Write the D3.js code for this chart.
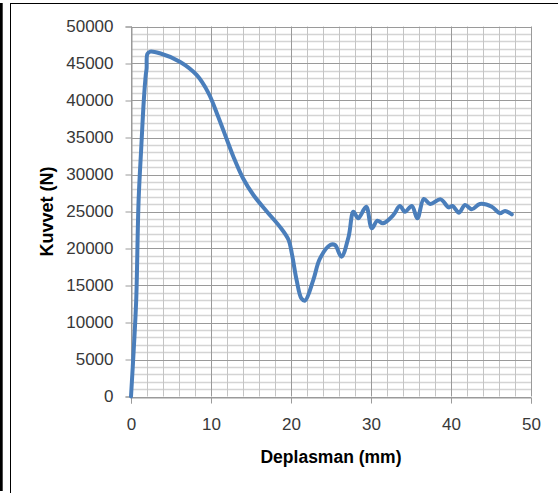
<!DOCTYPE html>
<html>
<head>
<meta charset="utf-8">
<script src="https://cdn.jsdelivr.net/npm/d3@7/dist/d3.min.js"></script>
<style>
  html, body { margin: 0; padding: 0; background: #fff; }
  svg { display: block; }
</style>
</head>
<body>
<svg id="chart" width="558" height="493"></svg>
<script>
// Force–displacement measurement (displacement in mm, force in N)
const displacement = [0, 0.35, 0.65, 0.95, 1.3, 1.6, 1.85, 1.95, 2.05, 2.4, 3.6, 6.1, 8.2, 9.7, 10.9, 12.0, 12.8, 14.0, 15.3, 17.0, 18.6, 19.7, 20.1, 20.7, 21.3, 21.75, 22.8, 23.6, 24.9, 25.5, 26.3, 27.2, 27.8, 28.4, 29.4, 30.1, 30.8, 31.5, 32.8, 33.6, 34.25, 35.1, 35.8, 36.6, 37.4, 38.7, 39.7, 40.2, 41.0, 41.75, 42.6, 43.6, 45.1, 46.1, 46.75, 47.6];
const force = [0, 6500, 13000, 26500, 34000, 40000, 43500, 44300, 46300, 46600, 46380, 45240, 43450, 40970, 37800, 34660, 32400, 29490, 27230, 24970, 22950, 21150, 19350, 15740, 13270, 12950, 15800, 18600, 20470, 20470, 18900, 21600, 24970, 24080, 25650, 22730, 23760, 23400, 24530, 25740, 24970, 25740, 24080, 26690, 26010, 26640, 25560, 25740, 24840, 25880, 25300, 26010, 25650, 24760, 25070, 24620];

const xTickValues = [0, 10, 20, 30, 40, 50];
const yTickValues = [0, 5000, 10000, 15000, 20000, 25000, 30000, 35000, 40000, 45000, 50000];
const xTitle = "Deplasman (mm)";
const yTitle = "Kuvvet (N)";

const svg = d3.select("#chart");
const plot = { left: 131, right: 531, top: 26.5, bottom: 396.5 };

const x = d3.scaleLinear().domain([0, 50]).range([plot.left, plot.right]);
const y = d3.scaleLinear().domain([0, 50000]).range([plot.bottom, plot.top]);

// frame lines
svg.append("rect").attr("x", 0).attr("y", 3).attr("width", 2.7).attr("height", 488).attr("fill", "#000");
svg.append("line").attr("x1", 10.5).attr("x2", 10.5).attr("y1", 3).attr("y2", 493).attr("stroke", "#000").attr("stroke-width", 1);
svg.append("line").attr("x1", 10).attr("x2", 558).attr("y1", 3.5).attr("y2", 3.5).attr("stroke", "#000").attr("stroke-width", 1);

const grid = svg.append("g");

// minor horizontal grid every 1000 N
grid.selectAll(".hminor").data(d3.range(1000, 50000, 1000).filter(v => v % 5000 !== 0))
  .join("line")
  .attr("x1", plot.left).attr("x2", plot.right)
  .attr("y1", d => Math.round(y(d)) + 0.5).attr("y2", d => Math.round(y(d)) + 0.5)
  .attr("stroke", "#d4d4d4").attr("stroke-width", 1.6);

// minor vertical grid every 2 mm
grid.selectAll(".vminor").data(d3.range(2, 50, 2).filter(v => v % 10 !== 0))
  .join("line")
  .attr("x1", d => Math.round(x(d)) + 0.5).attr("x2", d => Math.round(x(d)) + 0.5)
  .attr("y1", plot.top).attr("y2", plot.bottom)
  .attr("stroke", "#c4c4c4").attr("stroke-width", 1);

// major grid
grid.selectAll(".hmajor").data(yTickValues)
  .join("line")
  .attr("x1", plot.left).attr("x2", plot.right)
  .attr("y1", d => Math.round(y(d)) + 0.5).attr("y2", d => Math.round(y(d)) + 0.5)
  .attr("stroke", "#9a9a9a").attr("stroke-width", 1);
grid.selectAll(".vmajor").data(xTickValues)
  .join("line")
  .attr("x1", d => Math.round(x(d)) + 0.5).attr("x2", d => Math.round(x(d)) + 0.5)
  .attr("y1", plot.top).attr("y2", plot.bottom)
  .attr("stroke", "#9a9a9a").attr("stroke-width", 1);

// axes
const yAxis = d3.axisLeft(y).tickValues(yTickValues).tickSize(6).tickPadding(12).tickFormat(d3.format("d"));
const xAxis = d3.axisBottom(x).tickValues(xTickValues).tickSize(6).tickPadding(14).tickFormat(d3.format("d"));

const gy = svg.append("g").attr("transform", `translate(${plot.left + 0.5},0)`).call(yAxis);
const gx = svg.append("g").attr("transform", `translate(0,${Math.round(plot.bottom) + 0.5})`).call(xAxis);

[gx, gy].forEach(g => {
  g.select(".domain").attr("stroke", "#9a9a9a");
  g.selectAll(".tick line").attr("stroke", "#9a9a9a");
  g.selectAll("text")
    .attr("font-family", "'Liberation Sans', Arial, sans-serif")
    .attr("font-size", 17)
    .attr("fill", "#383838");
});

// data line
const line = d3.line()
  .x((d, i) => x(displacement[i]))
  .y((d, i) => y(force[i]))
  .curve(d3.curveCatmullRom.alpha(0.5));

svg.append("path")
  .datum(force)
  .attr("d", line)
  .attr("fill", "none")
  .attr("stroke", "#4a7ebb")
  .attr("stroke-width", 4)
  .attr("stroke-linejoin", "round")
  .attr("stroke-linecap", "round");

// axis titles
svg.append("text")
  .attr("x", (plot.left + plot.right) / 2)
  .attr("y", 462.5)
  .attr("text-anchor", "middle")
  .attr("font-family", "'Liberation Sans', Arial, sans-serif")
  .attr("font-weight", "bold")
  .attr("font-size", 17.5)
  .attr("fill", "#000")
  .text(xTitle);

svg.append("text")
  .attr("transform", `translate(53,${(plot.top + plot.bottom) / 2}) rotate(-90)`)
  .attr("text-anchor", "middle")
  .attr("font-family", "'Liberation Sans', Arial, sans-serif")
  .attr("font-weight", "bold")
  .attr("font-size", 18)
  .attr("fill", "#000")
  .text(yTitle);
</script>
</body>
</html>
